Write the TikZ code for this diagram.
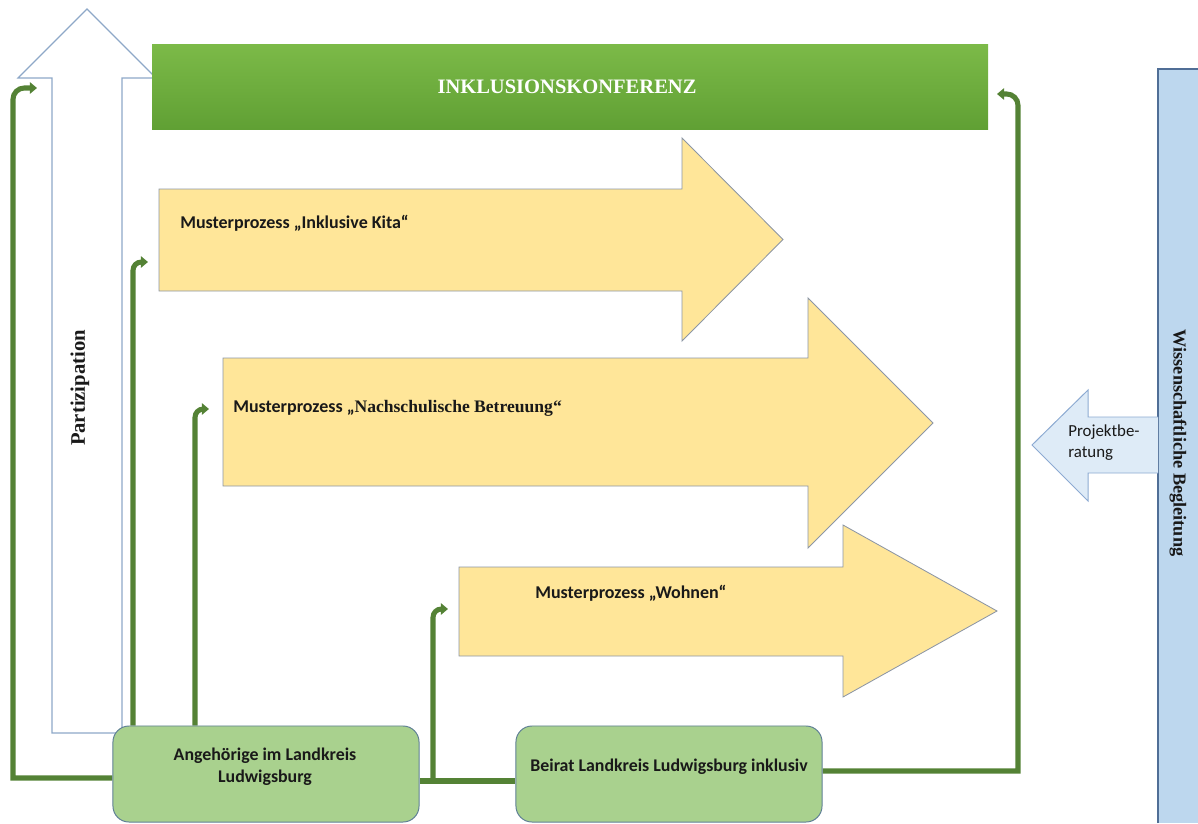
\documentclass[tikz,border=0pt]{standalone}
\usepackage{fontspec}
\setmainfont{Liberation Serif}
\newfontfamily\carlito{Carlito}
\usetikzlibrary{arrows.meta,backgrounds}
\definecolor{conngreen}{RGB}{84,130,53}
\definecolor{boxgreen}{RGB}{169,209,142}
\definecolor{boxedge}{RGB}{96,128,150}
\definecolor{ylw}{RGB}{255,230,153}
\definecolor{ylwedge}{RGB}{140,150,165}
\definecolor{partedge}{RGB}{142,168,200}
\definecolor{barblue}{RGB}{189,215,238}
\definecolor{baredge}{RGB}{80,110,150}
\definecolor{projblue}{RGB}{222,235,247}
\definecolor{projedge}{RGB}{140,170,210}
\definecolor{gtop}{RGB}{124,186,72}
\definecolor{gbot}{RGB}{96,160,52}
\definecolor{txt}{RGB}{25,25,25}
\tikzset{
  conn/.style={draw=conngreen,line width=3.6pt,-{Triangle[width=8pt,length=5pt]}},
  connplain/.style={draw=conngreen,line width=3.6pt},
  procarrow/.style={fill=ylw,draw=ylwedge,line width=0.6pt},
  roundbox/.style={draw=boxedge,fill=boxgreen,rounded corners=0.4cm,line width=0.7pt,
    minimum width=7.65cm,minimum height=2.4cm},
  boxtext/.style={align=center,inner sep=0pt,text=txt,
    font=\carlito\bfseries\fontsize{12.7}{15.5}\selectfont},
  proclabel/.style={anchor=west,inner sep=0pt,text=txt,font=\carlito\bfseries\fontsize{12.8}{15}\selectfont},
}
\begin{document}
\begin{tikzpicture}[x=0.025cm,y=-0.025cm]
\useasboundingbox (0,0) rectangle (1198,823);
% Partizipation arrow
\draw[draw=partedge,fill=white,line width=0.8pt]
  (52,733) -- (52,78) -- (18,78) -- (87,9) -- (156,78) -- (122,78) -- (122,733) -- cycle;
\node[rotate=90,text=txt,font=\bfseries\fontsize{14.7}{17}\selectfont] (part) at (80,388) {Partizipation};
% Inklusionskonferenz
\shade[top color=gtop,bottom color=gbot] (152,44) rectangle (988,129);
\node[font=\bfseries\fontsize{14.6}{17}\selectfont,text=white] (ik) at (567,87) {INKLUSIONSKONFERENZ};
% process arrows
\draw[procarrow] (159,189) -- (682,189) -- (682,138) -- (783,239.5) -- (682,341) -- (682,291) -- (159,291) -- cycle;
\node[proclabel] (kita) at (180,223) {Musterprozess „Inklusive Kita“};
\draw[procarrow] (223,358) -- (808,358) -- (808,298) -- (933,423) -- (808,548) -- (808,486) -- (223,486) -- cycle;
\node[proclabel] (nach) at (233,408) {Musterprozess „{\rmfamily\fontsize{12.5}{15}\selectfont Nachschulische Betreuung“}};
\draw[procarrow] (459,567) -- (843,567) -- (843,525) -- (997,611) -- (843,697) -- (843,656) -- (459,656) -- cycle;
\node[proclabel] (wohn) at (535,593) {Musterprozess „Wohnen“};
% Wissenschaftliche Begleitung bar
\fill[barblue] (1158,69) rectangle (1198,823);
\draw[baredge,line width=0.8pt] (1158,823) -- (1158,69) -- (1198,69);
\node[rotate=-90,text=txt,font=\bfseries\fontsize{13}{15}\selectfont] (wb) at (1178,443) {Wissenschaftliche Begleitung};
% Projektberatung arrow
\draw[fill=projblue,draw=projedge,line width=0.7pt]
  (1158,417) -- (1088,417) -- (1088,390) -- (1032,445) -- (1088,501) -- (1088,473) -- (1158,473);
\node[anchor=west,align=left,inner sep=0pt,text=txt,font=\carlito\fontsize{12}{15}\selectfont] (proj) at (1068,443) {Projektbe-\\ratung};
% target coordinates
\coordinate (t1) at (37,88);
\coordinate (t2) at (148,262);
\coordinate (t3) at (209,409);
\coordinate (t4) at (448,609);
\coordinate (t5) at (997,94);
\coordinate (j1) at (433,781);
% boxes
\node[roundbox] (ang) at (266,774) {};
\node[boxtext] (angt) at (265,767) {Angehörige im Landkreis\\Ludwigsburg};
\node[roundbox] (bei) at (669,774) {};
\node[boxtext] (beit) at (669,767) {Beirat Landkreis Ludwigsburg inklusiv};
% connectors (behind boxes)
\begin{scope}[on background layer]
\draw[conn] (ang.west |- 0,778) -- (13,778) [rounded corners=8pt] -- (13,88) -- (t1);
\draw[conn] (ang.north -| 133,0) [rounded corners=6pt] -- (133,262) -- (t2);
\draw[conn] (ang.north -| 195,0) [rounded corners=6pt] -- (195,409) -- (t3);
\draw[connplain] (ang.east |- j1) -- (bei.west |- j1);
\draw[conn] (j1) [rounded corners=6pt] -- (433,609) -- (t4);
\draw[conn] (bei.east |- 0,771) -- (1018,771) [rounded corners=8pt] -- (1018,94) -- (t5);
\end{scope}
\end{tikzpicture}
\end{document}
